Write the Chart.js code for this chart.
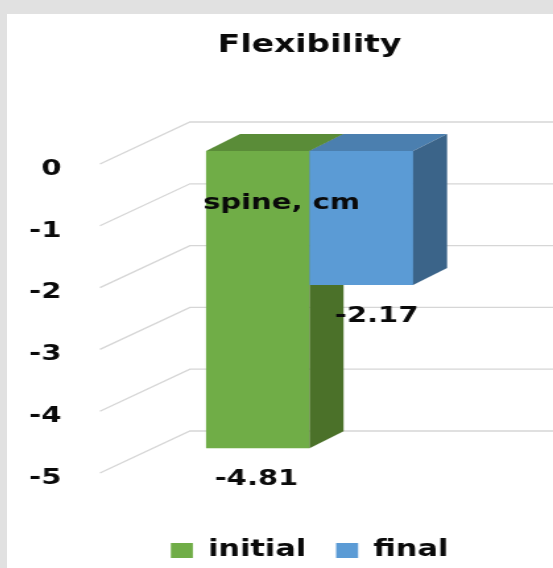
<!DOCTYPE html>
<html>
<head>
<meta charset="utf-8">
<script src="https://cdn.jsdelivr.net/npm/chart.js@4.4.1/dist/chart.umd.min.js"></script>
<style>
  html, body { margin: 0; padding: 0; width: 553px; height: 568px; overflow: hidden; background: #e1e1e1; }
  #panel { position: absolute; left: 7px; top: 14px; width: 546px; height: 558px; background: #ffffff; }
  /* the drawing is rendered narrow and widened horizontally */
  #chart { display: block; width: 546px !important; height: 558px !important; }
</style>
</head>
<body>
<div id="panel"><canvas id="chart" width="414" height="558" style="width:546px;height:558px;"></canvas></div>
<script>
// Chart data
const chartTitle = 'Flexibility';
const categories = ['spine, cm'];
const seriesLabels = ['initial', 'final'];
const initialValues = [-4.81];
const finalValues = [-2.17];
const yTickValues = [0, -1, -2, -3, -4, -5];

// Styling (x distances in canvas units)
const FONT = "'DejaVu Sans', Verdana, sans-serif";
const TEXT = '#0a0a0a';
const barStyles = [
  { front: '#70AD47', top: '#5A8C38', side: '#4B7129', labelDx: -1 },
  { front: '#5B9BD5', top: '#4B7FAF', side: '#3B6489', labelDx: 11.6 }
];
const DEPTH = { dx: 25.8, dy: 17 };             // bar depth offset
const WALL = { dx: 68.2, front: 13, back: 29 }; // gridline floor/back-wall offsets
const LABEL_GAP = 31;

Chart.defaults.font.family = FONT;
Chart.defaults.color = TEXT;

// Perspective gridlines: front edge -> back wall -> across
const gridPlugin = {
  id: 'grid3d',
  beforeDatasetsDraw(chart) {
    const { ctx, chartArea, scales: { y } } = chart;
    ctx.save();
    ctx.strokeStyle = '#d6d6d6';
    ctx.lineWidth = 1.3;
    y.ticks.forEach(t => {
      const p = y.getPixelForValue(t.value);
      ctx.beginPath();
      ctx.moveTo(chartArea.left, p + WALL.front);
      ctx.lineTo(chartArea.left + WALL.dx, p - WALL.back);
      ctx.lineTo(chart.width, p - WALL.back);
      ctx.stroke();
    });
    ctx.restore();
  }
};

function fillPoly(ctx, pts, color) {
  ctx.beginPath();
  ctx.moveTo(pts[0][0], pts[0][1]);
  for (let i = 1; i < pts.length; i++) ctx.lineTo(pts[i][0], pts[i][1]);
  ctx.closePath();
  ctx.fillStyle = color;
  ctx.fill();
}

// Top and side faces of each bar, then the value labels
const bar3dPlugin = {
  id: 'bar3d',
  afterDatasetsDraw(chart) {
    const ctx = chart.ctx;
    const labels = [];
    ctx.save();
    chart.data.datasets.forEach((ds, i) => {
      const meta = chart.getDatasetMeta(i);
      if (meta.hidden) return;
      const st = barStyles[i];
      meta.data.forEach((el, j) => {
        const { x, y, base, width } = el.getProps(['x', 'y', 'base', 'width'], true);
        const l = x - width / 2, r = x + width / 2;
        const t = Math.min(y, base), b = Math.max(y, base);
        if (i > 0) el.draw(ctx);
        fillPoly(ctx, [[l, t], [r, t], [r + DEPTH.dx, t - DEPTH.dy], [l + DEPTH.dx, t - DEPTH.dy]], st.top);
        fillPoly(ctx, [[r, t], [r + DEPTH.dx, t - DEPTH.dy], [r + DEPTH.dx, b - DEPTH.dy], [r, b]], st.side);
        labels.push({ text: ds.data[j].toFixed(2), x: x + st.labelDx, y: b + LABEL_GAP });
      });
    });
    ctx.fillStyle = TEXT;
    ctx.font = 'bold 22px ' + FONT;
    ctx.textAlign = 'center';
    ctx.textBaseline = 'middle';
    labels.forEach(lb => ctx.fillText(lb.text, lb.x, lb.y));
    ctx.restore();
  }
};

new Chart(document.getElementById('chart'), {
  type: 'bar',
  data: {
    labels: categories,
    datasets: [
      { label: seriesLabels[0], data: initialValues, backgroundColor: barStyles[0].front, borderWidth: 0 },
      { label: seriesLabels[1], data: finalValues, backgroundColor: barStyles[1].front, borderWidth: 0 }
    ]
  },
  options: {
    responsive: false,
    animation: false,
    devicePixelRatio: 1,
    layout: { padding: { left: 0, right: 25.7, top: 0, bottom: 0 } },
    datasets: { bar: { categoryPercentage: 0.494, barPercentage: 1 } },
    scales: {
      x: {
        type: 'category',
        position: { y: 0 },
        grid: { display: false },
        border: { display: false },
        ticks: { z: 1, font: { size: 22, weight: 'bold' }, color: TEXT, padding: 31, labelOffset: -21.2, maxRotation: 0 }
      },
      gap: {
        type: 'category',
        position: 'bottom',
        grid: { display: false },
        border: { display: false },
        ticks: { display: false },
        afterFit(s) { s.height = 56.3; }
      },
      y: {
        position: 'left',
        min: Math.min(...yTickValues),
        max: Math.max(...yTickValues),
        grid: { display: false, drawTicks: false },
        border: { display: false },
        ticks: { stepSize: 1, font: { size: 22, weight: 'bold' }, color: TEXT, padding: 29.3, labelOffset: 18 },
        afterFit(s) { s.width = 70.5; }
      }
    },
    plugins: {
      title: {
        display: true,
        fullSize: false,
        text: chartTitle,
        color: TEXT,
        font: { size: 25, weight: 'bold' },
        padding: { top: 16.5, bottom: 90.5 }
      },
      legend: {
        position: 'bottom',
        fullSize: false,
        labels: { boxWidth: 16.7, boxHeight: 15, padding: 22.7, color: TEXT, font: { size: 23, weight: 'bold' } }
      },
      tooltip: { enabled: false }
    }
  },
  plugins: [gridPlugin, bar3dPlugin]
});
</script>
</body>
</html>
